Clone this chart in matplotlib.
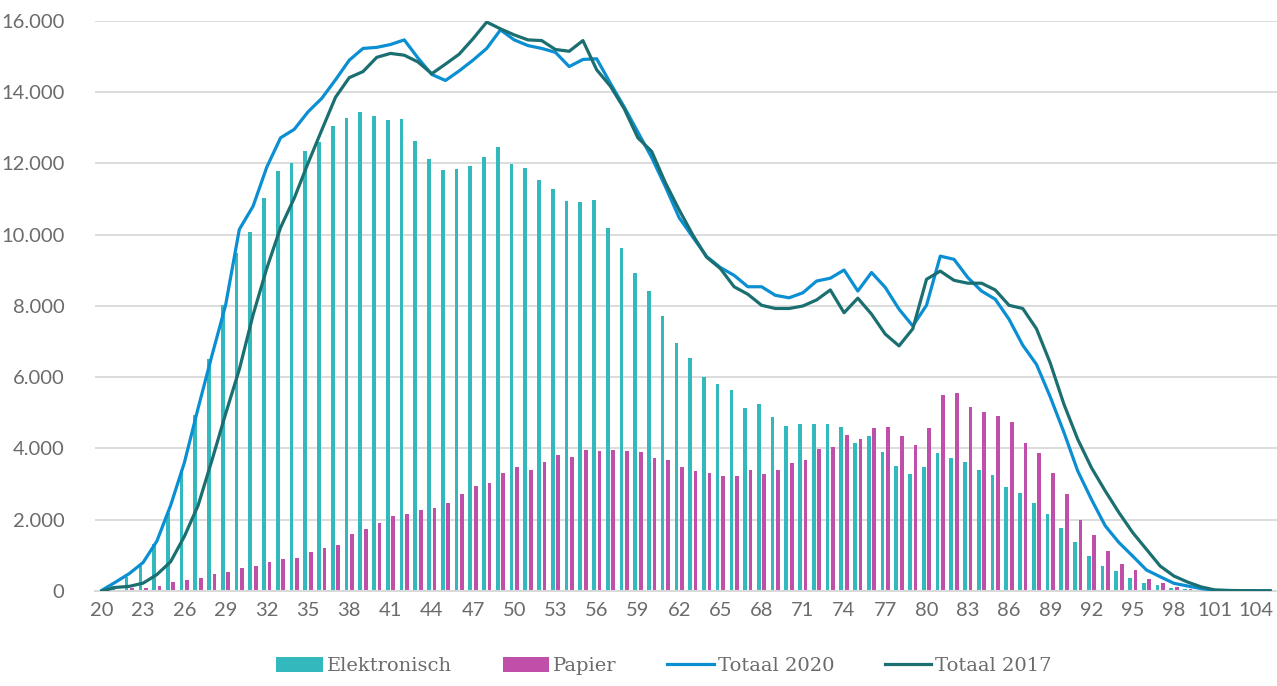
import matplotlib
matplotlib.use("Agg")
import matplotlib.pyplot as plt
import numpy as np

ages = list(range(20, 106))

elektronisch = [30, 150, 400, 710, 1310, 2200, 3400, 4930, 6500, 8020,
                9500, 10090, 11030, 11790, 12000, 12360, 12590, 13050, 13290, 13450,
                13330, 13220, 13260, 12640, 12140, 11820, 11850, 11920, 12170, 12450,
                11980, 11880, 11550, 11270, 10940, 10920, 10970, 10180, 9640, 8930,
                8410, 7730, 6950, 6550, 6000, 5810, 5640, 5140, 5240, 4890,
                4630, 4700, 4700, 4700, 4610, 4150, 4340, 3910, 3510, 3290,
                3470, 3880, 3740, 3630, 3400, 3250, 2930, 2740, 2480, 2170,
                1760, 1370, 990, 710, 570, 370, 230, 170, 85, 47,
                20, 8, 4, 2, 1, 1]

papier = [10, 40, 90, 80, 130, 250, 305, 370, 470, 545,
          655, 710, 810, 895, 930, 1090, 1200, 1280, 1590, 1750,
          1910, 2110, 2160, 2260, 2340, 2480, 2710, 2950, 3030, 3310,
          3470, 3400, 3620, 3820, 3760, 3970, 3930, 3950, 3920, 3900,
          3730, 3680, 3490, 3380, 3300, 3240, 3230, 3390, 3290, 3400,
          3590, 3670, 3980, 4050, 4370, 4270, 4570, 4590, 4360, 4110,
          4570, 5500, 5560, 5160, 5020, 4920, 4740, 4160, 3860, 3320,
          2710, 2000, 1570, 1110, 770, 580, 350, 225, 112, 65,
          28, 12, 6, 3, 2, 1]

totaal_2020 = [20, 250, 490, 800, 1400, 2400, 3600, 5130, 6600, 8020,
               10150, 10800, 11900, 12720, 12960, 13450, 13830, 14350, 14900, 15230,
               15260, 15340, 15470, 14960, 14500, 14330, 14600, 14900, 15230, 15750,
               15470, 15310, 15230, 15120, 14720, 14920, 14940, 14250, 13590, 12880,
               12170, 11350, 10480, 9930, 9390, 9080, 8860, 8540, 8540, 8300,
               8230, 8370, 8700, 8780, 9010, 8420, 8940, 8520, 7910, 7440,
               8020, 9400, 9310, 8800, 8420, 8190, 7630, 6900, 6360, 5450,
               4450, 3370, 2570, 1830, 1360, 980, 590, 400, 215, 140,
               65, 20, 12, 8, 5, 3]

totaal_2017 = [0, 100, 130, 220, 460, 820, 1530, 2400, 3660, 4970,
               6220, 7750, 9060, 10200, 11030, 12010, 12940, 13860, 14410, 14580,
               14980, 15090, 15040, 14850, 14520, 14790, 15070, 15500, 15970, 15780,
               15610, 15470, 15450, 15200, 15150, 15450, 14630, 14170, 13540, 12720,
               12340, 11460, 10700, 9990, 9370, 9050, 8540, 8330, 8020, 7930,
               7930, 8000, 8170, 8450, 7810, 8220, 7770, 7210, 6880, 7360,
               8750, 8980, 8720, 8640, 8640, 8450, 8020, 7930, 7360, 6400,
               5240, 4260, 3460, 2810, 2200, 1640, 1170, 700, 420, 250,
               112, 28, 15, 10, 8, 5]

y_ticks = [0, 2000, 4000, 6000, 8000, 10000, 12000, 14000, 16000]
y_tick_labels = ["0", "2.000", "4.000", "6.000", "8.000", "10.000", "12.000", "14.000", "16.000"]

c_el = "#33b8be"
c_pa = "#bf4fa8"
c_20 = "#0a8fd2"
c_17 = "#1b6f70"
grid_c = "#d9d9d9"
text_c = "#6b6b6b"

fig = plt.figure(figsize=(12.77, 6.86), dpi=100)
ax = fig.add_axes([0.0744, 0.1385, 0.9256, 0.8309])

x = np.arange(len(ages))
w = 0.27
b1 = ax.bar(x - 0.2, elektronisch, width=w, color=c_el, label="Elektronisch", zorder=2)
b2 = ax.bar(x + 0.2, papier, width=w, color=c_pa, label="Papier", zorder=2)
l1, = ax.plot(x, totaal_2020, color=c_20, lw=2.3, label="Totaal 2020", zorder=3, solid_joinstyle="round")
l2, = ax.plot(x, totaal_2017, color=c_17, lw=2.3, label="Totaal 2017", zorder=4, solid_joinstyle="round")

ax.set_xlim(-0.5, len(ages) - 0.5)
ax.set_ylim(0, 16000)
ax.set_yticks(y_ticks)
ax.set_yticklabels(y_tick_labels)
tick_idx = x[::3]
ax.set_xticks(tick_idx)
ax.set_xticklabels([str(ages[i]) for i in tick_idx])

for s in ["top", "right", "left"]:
    ax.spines[s].set_visible(False)
ax.spines["bottom"].set_color(grid_c)
ax.spines["bottom"].set_linewidth(1.5)
ax.yaxis.grid(True, color=grid_c, lw=1.3, zorder=0)
ax.set_axisbelow(True)
ax.tick_params(axis="both", length=0, colors=text_c, labelsize=14.5)
ax.tick_params(axis="y", pad=22)
ax.tick_params(axis="x", pad=8)
for lab in ax.get_xticklabels() + ax.get_yticklabels():
    lab.set_fontfamily("Lato")

leg = fig.legend([b1, b2, l1, l2], ["Elektronisch", "Papier", "Totaal 2020", "Totaal 2017"],
                 loc="lower center", bbox_to_anchor=(0.52, -0.01), ncol=4, frameon=False,
                 prop={"family": "DejaVu Serif", "size": 14}, handlelength=2.4,
                 handleheight=0.8, columnspacing=2.6, handletextpad=0.2)
for t in leg.get_texts():
    t.set_color(text_c)

fig.savefig("out.png", dpi=100)
